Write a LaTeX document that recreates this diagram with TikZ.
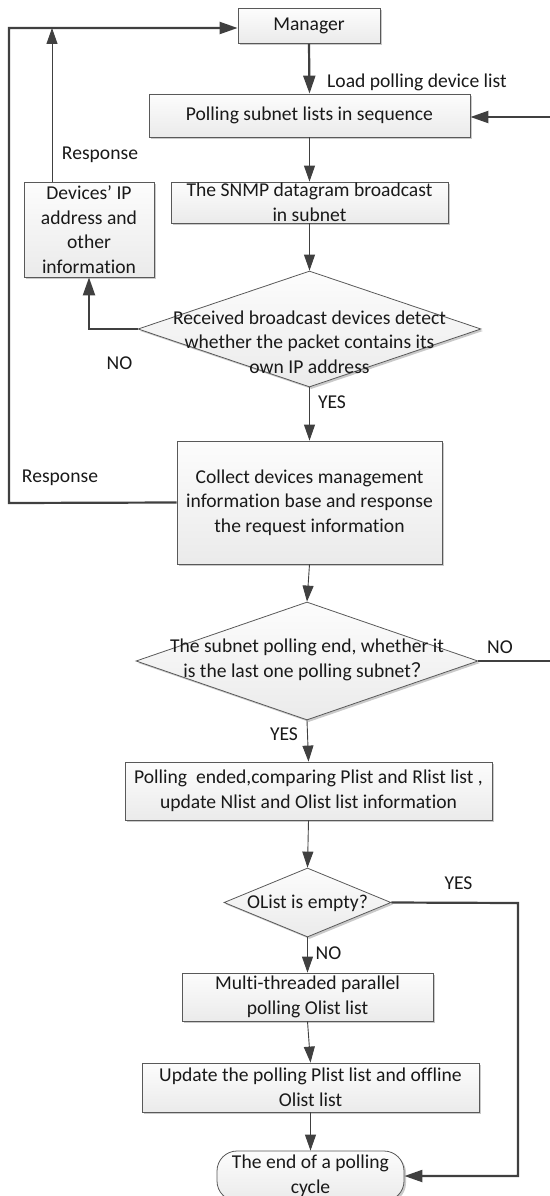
\documentclass[tikz,border=0pt]{standalone}
\usepackage{fontspec}
\setmainfont{Carlito}[Ligatures=NoCommon]
\newfontfamily\cjk{Noto Sans CJK SC}
\usetikzlibrary{shapes.geometric,arrows.meta,shadows}
\begin{document}
\begin{tikzpicture}[x=1pt,y=-1pt,
  every node/.style={font=\fontsize{19.6}{24.5}\selectfont, text=black!90},
  boxbase/.style={draw=black!65, line width=0.8pt, top color=gray!2, bottom color=gray!16,
     drop shadow={shadow xshift=2pt, shadow yshift=-2pt, fill=gray!70, opacity=0.6},
     inner sep=0pt, align=center},
  procbox/.style={boxbase, rectangle},
  decis/.style={boxbase, diamond, aspect=1},
  termbox/.style={boxbase, rectangle, rounded corners=20pt},
  lbl/.style={inner sep=0pt},
  thinln/.style={draw=black!75, line width=0.9pt, -{Triangle[length=16pt,width=11pt]}},
  thickln/.style={draw=black!75, line width=2.2pt, -{Triangle[length=18pt,width=12pt]}},
]
\useasboundingbox (0,0) rectangle (549,1196);

% process nodes
\node[procbox, minimum width=142pt, minimum height=35pt] (mgr) at (309,26) {Manager};
\node[procbox, minimum width=321pt, minimum height=43pt] (poll) at (309.5,115.5) {Polling subnet lists in sequence};
\node[procbox, minimum width=277pt, minimum height=41pt] (snmp) at (309.5,202.5) {The SNMP datagram broadcast\\in subnet};
\node[procbox, minimum width=130pt, minimum height=95pt] (dev) at (89,229.5) {Devices’ IP\\address and\\other\\information};
\node[decis, minimum width=343pt, minimum height=116pt] (d1) at (309.5,329) {};
\node[lbl, align=center] (d1t) at (309.5,342) {Received broadcast devices detect\\whether the packet contains its\\own IP address};
\node[procbox, minimum width=265pt, minimum height=123pt] (collect) at (309.5,502.5) {Collect devices management\\information base and response\\the request information};
\node[decis, minimum width=342pt, minimum height=118pt] (d2) at (307,661) {};
\node[lbl, align=center] (d2t) at (307,660) {The subnet polling end, whether it\\is the last one polling subnet{\cjk ？}};
\node[procbox, minimum width=367pt, minimum height=58pt] (pend) at (308.5,791) {Polling\ \ ended,comparing Plist and Rlist list ,\\update Nlist and Olist list information};
\node[decis, minimum width=167pt, minimum height=69pt] (d3) at (307.5,902.5) {};
\node[lbl] (d3t) at (307.5,903) {OList is empty?};
\node[procbox, minimum width=251pt, minimum height=48pt] (multi) at (307.5,997) {Multi-threaded parallel\\polling Olist list};
\node[procbox, minimum width=337pt, minimum height=49pt] (upd) at (310.5,1087.5) {Update the polling Plist list and offline\\Olist list};
\node[termbox, minimum width=187pt, minimum height=50pt] (term) at (310.5,1176) {The end of a polling\\cycle};

% labels
\node[lbl, anchor=west] (lload) at (327,82) {Load polling device list};
\node[lbl] (lresp1) at (100,155) {Response};
\node[lbl] (lno1) at (119.5,363) {NO};
\node[lbl] (lyes1) at (332,402) {YES};
\node[lbl] (lresp2) at (60,478) {Response};
\node[lbl] (lno2) at (500,647) {NO};
\node[lbl] (lyes2) at (284,734) {YES};
\node[lbl] (lyes3) at (458.5,883) {YES};
\node[lbl] (lno3) at (328.5,953) {NO};

% helper coordinates
\coordinate (lt) at (9,28);
\coordinate (lb) at (9,503);
\coordinate (devtop) at (52,182);
\coordinate (devup) at (52,28);
\coordinate (r1) at (575,661);
\coordinate (r2) at (575,117);
\coordinate (y3) at (518,903);

% connectors
\draw[thickln] (mgr.south) -- (poll.north);
\draw[thinln] (poll.south) -- (snmp.north);
\draw[thinln] (snmp.south) -- (d1.north);
\draw[thinln] (d1.south) -- (collect.north);
\draw[thickln] (d1.west) -| (dev.south);
\draw[thinln] (devtop) -- (devup);
\draw[thickln] (collect.west) -- (lb) -- (lt) -- (mgr.west |- lt);
\draw[thinln] (collect.south) -- (d2.north);
\draw[thickln] (d2.east) -- (r1) -- (r2) -- (poll.east |- r2);
\draw[thinln] (d2.south) -- (pend.north);
\draw[thinln] (pend.south) -- (d3.north);
\draw[thinln] (d3.south) -- (multi.north);
\draw[thinln] (multi.south) -- (upd.north);
\draw[thinln] (upd.south) -- (term.north);
\draw[thickln] (d3.east) -- (y3) |- (term.east);
\end{tikzpicture}
\end{document}
